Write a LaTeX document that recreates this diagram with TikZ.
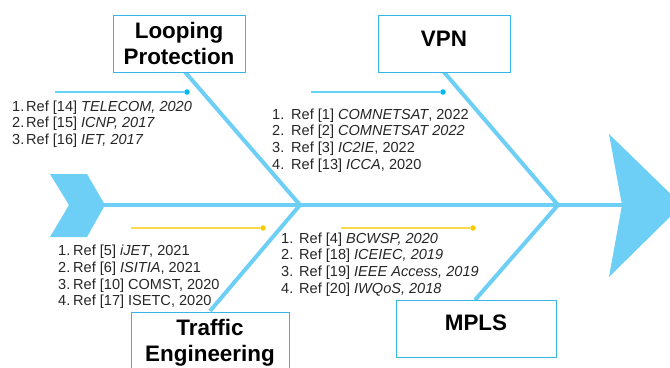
\documentclass[tikz,border=0pt]{standalone}
\usepackage{fontspec}
\setmainfont{Liberation Sans}
\definecolor{bone}{HTML}{6DCFF6}
\definecolor{boxline}{HTML}{35B5E8}
\definecolor{dotblue}{HTML}{00B8F0}
\definecolor{dotyellow}{HTML}{F8CB00}
\definecolor{lineyellow}{HTML}{FAD94A}
\definecolor{txt}{HTML}{262626}
\newcommand{\reflist}[2]{\makebox[#1][l]{#2}}
\tikzset{
  x=1bp,y=-1bp,
  titlebox/.style={draw=boxline,line width=1bp,fill=white,inner sep=0pt,align=center,text=black,font=\fontsize{22.5}{26}\selectfont\bfseries},
  spine/.style={draw=bone,line width=3.5bp},
  rib/.style={draw=bone,line width=4bp},
  fishfill/.style={fill=bone,draw=none},
  reftext/.style={anchor=west,inner sep=0pt,align=left,text=txt,font=\fontsize{14.6}{16.6}\selectfont},
  bluecall/.style={draw=dotblue!60,line width=1.1bp},
  yellowcall/.style={draw=lineyellow,line width=1.1bp},
  bluedot/.style={circle,fill=dotblue,inner sep=0pt,minimum size=5.5bp},
  yellowdot/.style={circle,fill=dotyellow,inner sep=0pt,minimum size=5.5bp}
}
\begin{document}
\begin{tikzpicture}
\useasboundingbox (0,0) rectangle (670,367);
\clip (0,0) rectangle (670,367);
% fixed points
\coordinate (j1) at (300,205);
\coordinate (j2) at (558,205);
\coordinate (spinestart) at (100,205);
\coordinate (spineend) at (624,205);
\coordinate (ribA) at (185,72);
\coordinate (ribB) at (443,71);
\coordinate (ribC) at (210,311);
\coordinate (ribD) at (475,300);
% main body
\draw[spine] (spinestart) -- (spineend);
\draw[rib] (ribA) -- (j1);
\draw[rib] (ribB) -- (j2);
\draw[rib] (ribC) -- (j1);
\draw[rib] (ribD) -- (j2);
\fill[fishfill] (50,174) -- (87,174) -- (105,205) -- (87,237) -- (50,237) -- (69,205) -- cycle;
\fill[fishfill] (609,134) -- (682,205) -- (609,277) -- (622,205) -- cycle;
% boxes
\node[titlebox,minimum width=132bp,minimum height=57bp] (looping) at (179,43.5) {Looping\\Protection};
\node[titlebox,minimum width=132bp,minimum height=57bp,anchor=north] (vpn) at (444,14.5) {};
\node[inner sep=0pt,font=\fontsize{22.5}{26}\selectfont\bfseries] (vpnlabel) at (444,38.5) {VPN};
\node[titlebox,minimum width=158bp,minimum height=68bp,anchor=north] (traffic) at (210,311.5) {};
\node[inner sep=0pt,align=center,font=\fontsize{22.5}{26}\selectfont\bfseries] (trafficlabel) at (210,342.5) {Traffic\\Engineering};
\node[titlebox,minimum width=160bp,minimum height=57bp,anchor=north] (mpls) at (476,300) {};
\node[inner sep=0pt,font=\fontsize{22.5}{26}\selectfont\bfseries] (mplslabel) at (476,322.5) {MPLS};
% callouts
\node[bluedot] (dotA) at (187,92) {};
\coordinate (startA) at (55,92);
\draw[bluecall] (startA) -- (dotA);
\node[bluedot] (dotB) at (443,92) {};
\coordinate (startB) at (311,92);
\draw[bluecall] (startB) -- (dotB);
\node[yellowdot] (dotC) at (263,228) {};
\coordinate (startC) at (131,228);
\draw[yellowcall] (startC) -- (dotC);
\node[yellowdot] (dotD) at (473,228) {};
\coordinate (startD) at (341,228);
\draw[yellowcall] (startD) -- (dotD);
% reference lists
\node[reftext] (listA) at (12,123.8) {\reflist{14bp}{1.}Ref [14] \textit{TELECOM, 2020}\\\reflist{14bp}{2.}Ref [15] \textit{ICNP, 2017}\\\reflist{14bp}{3.}Ref [16] \textit{IET, 2017}};
\node[reftext] (listB) at (272,140.5) {\reflist{19bp}{1.}Ref [1] \textit{COMNETSAT}, 2022\\\reflist{19bp}{2.}Ref [2] \textit{COMNETSAT 2022}\\\reflist{19bp}{3.}Ref [3] \textit{IC2IE}, 2022\\\reflist{19bp}{4.}Ref [13] \textit{ICCA}, 2020};
\node[reftext] (listC) at (58,277) {\reflist{15bp}{1.}Ref [5] \textit{iJET}, 2021\\\reflist{15bp}{2.}Ref [6] \textit{ISITIA}, 2021\\\reflist{15bp}{3.}Ref [10] COMST, 2020\\\reflist{15bp}{4.}Ref [17] ISETC, 2020};
\node[reftext] (listD) at (281,264.5) {\reflist{18bp}{1.}Ref [4] \textit{BCWSP, 2020}\\\reflist{18bp}{2.}Ref [18] \textit{ICEIEC, 2019}\\\reflist{18bp}{3.}Ref [19] \textit{IEEE Access, 2019}\\\reflist{18bp}{4.}Ref [20] \textit{IWQoS, 2018}};
\end{tikzpicture}
\end{document}
